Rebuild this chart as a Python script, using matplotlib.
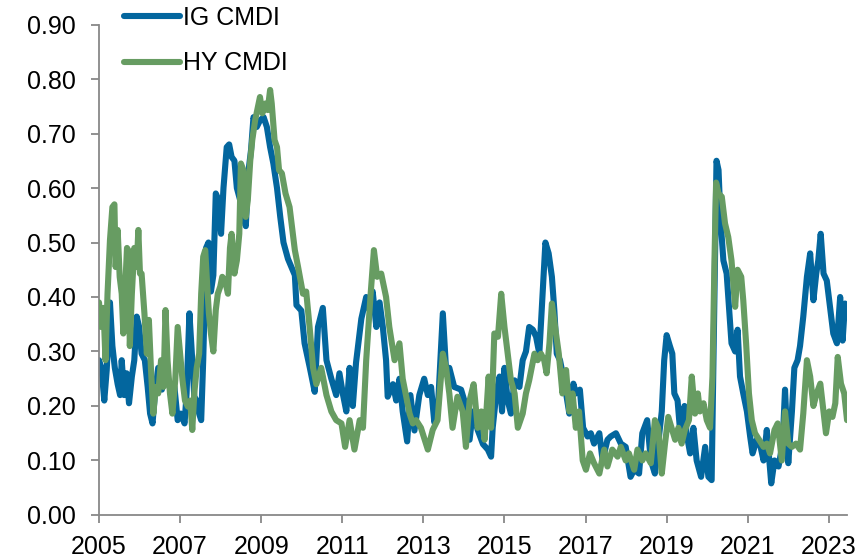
import matplotlib.pyplot as plt
import numpy as np

plt.rcParams['font.family'] = ['Liberation Sans', 'DejaVu Sans']

# IG CMDI readings (decimal year, index value)
ig_years = [
    2005.00, 2005.06, 2005.13, 2005.19, 2005.27, 2005.33, 2005.39, 2005.46, 2005.52, 2005.56,
    2005.62, 2005.68, 2005.74, 2005.81, 2005.87, 2005.93, 2005.99, 2006.05, 2006.13, 2006.20,
    2006.26, 2006.32, 2006.38, 2006.46, 2006.55, 2006.63, 2006.71, 2006.78, 2006.86, 2006.94,
    2007.02, 2007.11, 2007.16, 2007.23, 2007.29, 2007.35, 2007.41, 2007.47, 2007.52, 2007.57,
    2007.64, 2007.70, 2007.76, 2007.82, 2007.88, 2007.95, 2008.01, 2008.07, 2008.15, 2008.21,
    2008.27, 2008.34, 2008.40, 2008.48, 2008.56, 2008.62, 2008.69, 2008.75, 2008.81, 2008.89,
    2008.97, 2009.06, 2009.14, 2009.22, 2009.30, 2009.39, 2009.47, 2009.55, 2009.66, 2009.83,
    2009.87, 2009.99, 2010.07, 2010.20, 2010.32, 2010.40, 2010.52, 2010.61, 2010.73, 2010.85,
    2010.93, 2011.02, 2011.10, 2011.18, 2011.26, 2011.34, 2011.47, 2011.59, 2011.67, 2011.75,
    2011.84, 2011.92, 2012.00, 2012.08, 2012.12, 2012.25, 2012.33, 2012.41, 2012.49, 2012.60,
    2012.68, 2012.78, 2012.90, 2013.02, 2013.11, 2013.19, 2013.27, 2013.35, 2013.48, 2013.56,
    2013.64, 2013.76, 2013.93, 2014.05, 2014.14, 2014.22, 2014.34, 2014.47, 2014.59, 2014.67,
    2014.71, 2014.80, 2014.88, 2014.94, 2015.00, 2015.08, 2015.16, 2015.25, 2015.37, 2015.45,
    2015.53, 2015.61, 2015.70, 2015.78, 2015.86, 2015.94, 2016.01, 2016.09, 2016.17, 2016.23,
    2016.29, 2016.37, 2016.45, 2016.52, 2016.60, 2016.70, 2016.76, 2016.86, 2016.94, 2017.05,
    2017.13, 2017.21, 2017.34, 2017.42, 2017.54, 2017.62, 2017.75, 2017.87, 2017.99, 2018.11,
    2018.20, 2018.32, 2018.40, 2018.52, 2018.61, 2018.71, 2018.79, 2018.88, 2018.94, 2019.00,
    2019.08, 2019.14, 2019.19, 2019.27, 2019.33, 2019.39, 2019.44, 2019.49, 2019.58, 2019.66,
    2019.74, 2019.85, 2019.95, 2020.03, 2020.11, 2020.18, 2020.23, 2020.28, 2020.33, 2020.40,
    2020.48, 2020.55, 2020.60, 2020.69, 2020.75, 2020.81, 2020.89, 2020.98, 2021.06, 2021.12,
    2021.22, 2021.30, 2021.39, 2021.47, 2021.58, 2021.66, 2021.76, 2021.86, 2021.92, 2022.00,
    2022.09, 2022.15, 2022.23, 2022.29, 2022.37, 2022.46, 2022.54, 2022.62, 2022.69, 2022.74,
    2022.80, 2022.87, 2022.95, 2023.03, 2023.11, 2023.20, 2023.28, 2023.34, 2023.40, 2023.45,
]
ig_values = [
    0.284, 0.270, 0.210, 0.266, 0.390, 0.310, 0.270, 0.240, 0.220, 0.284,
    0.220, 0.260, 0.205, 0.254, 0.284, 0.364, 0.345, 0.296, 0.284, 0.235,
    0.186, 0.168, 0.223, 0.270, 0.230, 0.284, 0.247, 0.223, 0.235, 0.174,
    0.186, 0.168, 0.223, 0.370, 0.296, 0.217, 0.210, 0.186, 0.174, 0.284,
    0.490, 0.500, 0.410, 0.440, 0.590, 0.578, 0.516, 0.600, 0.675, 0.680,
    0.657, 0.650, 0.600, 0.578, 0.553, 0.530, 0.633, 0.670, 0.730, 0.712,
    0.724, 0.730, 0.712, 0.675, 0.645, 0.600, 0.547, 0.500, 0.470, 0.440,
    0.385, 0.375, 0.315, 0.270, 0.226, 0.345, 0.380, 0.284, 0.250, 0.220,
    0.260, 0.220, 0.190, 0.270, 0.200, 0.280, 0.360, 0.400, 0.376, 0.410,
    0.345, 0.390, 0.345, 0.284, 0.217, 0.240, 0.210, 0.250, 0.190, 0.135,
    0.220, 0.155, 0.220, 0.250, 0.220, 0.235, 0.170, 0.185, 0.370, 0.266,
    0.270, 0.235, 0.230, 0.200, 0.138, 0.190, 0.156, 0.130, 0.120, 0.107,
    0.160, 0.223, 0.254, 0.190, 0.270, 0.210, 0.186, 0.247, 0.235, 0.284,
    0.300, 0.345, 0.340, 0.327, 0.296, 0.406, 0.500, 0.480, 0.437, 0.376,
    0.296, 0.284, 0.254, 0.223, 0.186, 0.241, 0.223, 0.230, 0.160, 0.144,
    0.150, 0.131, 0.150, 0.100, 0.138, 0.144, 0.150, 0.131, 0.125, 0.070,
    0.083, 0.076, 0.150, 0.174, 0.100, 0.076, 0.130, 0.190, 0.284, 0.330,
    0.310, 0.296, 0.223, 0.210, 0.156, 0.150, 0.200, 0.150, 0.113, 0.160,
    0.100, 0.070, 0.125, 0.070, 0.064, 0.406, 0.650, 0.633, 0.540, 0.467,
    0.443, 0.370, 0.315, 0.300, 0.340, 0.254, 0.223, 0.190, 0.144, 0.113,
    0.138, 0.131, 0.100, 0.156, 0.058, 0.100, 0.089, 0.131, 0.230, 0.095,
    0.190, 0.270, 0.284, 0.310, 0.364, 0.437, 0.480, 0.394, 0.443, 0.467,
    0.516, 0.443, 0.430, 0.382, 0.333, 0.315, 0.400, 0.320, 0.388, 0.370,
]

# HY CMDI readings (decimal year, index value)
hy_years = [
    2005.00, 2005.05, 2005.11, 2005.16, 2005.21, 2005.27, 2005.33, 2005.38, 2005.41, 2005.46,
    2005.51, 2005.56, 2005.60, 2005.64, 2005.69, 2005.72, 2005.76, 2005.81, 2005.87, 2005.93,
    2005.97, 2006.01, 2006.05, 2006.12, 2006.18, 2006.23, 2006.28, 2006.34, 2006.40, 2006.46,
    2006.53, 2006.59, 2006.64, 2006.69, 2006.75, 2006.81, 2006.88, 2006.94, 2007.00, 2007.06,
    2007.12, 2007.19, 2007.25, 2007.30, 2007.35, 2007.41, 2007.47, 2007.52, 2007.57, 2007.62,
    2007.67, 2007.71, 2007.76, 2007.82, 2007.88, 2007.93, 2007.99, 2008.04, 2008.11, 2008.18,
    2008.23, 2008.27, 2008.34, 2008.40, 2008.46, 2008.50, 2008.56, 2008.62, 2008.67, 2008.73,
    2008.78, 2008.85, 2008.92, 2008.97, 2009.03, 2009.10, 2009.16, 2009.22, 2009.26, 2009.33,
    2009.39, 2009.44, 2009.51, 2009.60, 2009.70, 2009.83, 2009.91, 2010.03, 2010.11, 2010.20,
    2010.28, 2010.36, 2010.48, 2010.61, 2010.73, 2010.85, 2010.98, 2011.07, 2011.18, 2011.30,
    2011.43, 2011.51, 2011.59, 2011.70, 2011.78, 2011.86, 2011.96, 2012.08, 2012.16, 2012.29,
    2012.41, 2012.49, 2012.57, 2012.66, 2012.74, 2012.82, 2012.94, 2013.11, 2013.23, 2013.35,
    2013.48, 2013.56, 2013.64, 2013.72, 2013.84, 2013.97, 2014.05, 2014.14, 2014.24, 2014.34,
    2014.43, 2014.51, 2014.61, 2014.67, 2014.75, 2014.84, 2014.92, 2015.00, 2015.08, 2015.16,
    2015.25, 2015.33, 2015.45, 2015.53, 2015.61, 2015.74, 2015.82, 2015.90, 2015.98, 2016.04,
    2016.11, 2016.17, 2016.25, 2016.34, 2016.43, 2016.52, 2016.60, 2016.68, 2016.76, 2016.84,
    2016.93, 2017.01, 2017.11, 2017.21, 2017.34, 2017.46, 2017.54, 2017.66, 2017.79, 2017.87,
    2017.99, 2018.07, 2018.20, 2018.28, 2018.40, 2018.48, 2018.61, 2018.71, 2018.79, 2018.88,
    2018.96, 2019.04, 2019.12, 2019.21, 2019.29, 2019.37, 2019.45, 2019.55, 2019.62, 2019.70,
    2019.77, 2019.82, 2019.91, 2019.99, 2020.07, 2020.13, 2020.18, 2020.22, 2020.28, 2020.36,
    2020.44, 2020.52, 2020.60, 2020.69, 2020.75, 2020.84, 2020.89, 2020.96, 2021.03, 2021.10,
    2021.18, 2021.28, 2021.39, 2021.47, 2021.55, 2021.66, 2021.74, 2021.84, 2021.92, 2022.00,
    2022.09, 2022.19, 2022.29, 2022.37, 2022.46, 2022.54, 2022.62, 2022.70, 2022.79, 2022.87,
    2022.93, 2023.01, 2023.09, 2023.16, 2023.22, 2023.30, 2023.38, 2023.45,
]
hy_values = [
    0.390, 0.345, 0.380, 0.284, 0.406, 0.504, 0.565, 0.570, 0.455, 0.523,
    0.437, 0.406, 0.333, 0.406, 0.490, 0.486, 0.310, 0.406, 0.490, 0.455,
    0.523, 0.443, 0.443, 0.370, 0.296, 0.358, 0.270, 0.186, 0.235, 0.223,
    0.284, 0.235, 0.376, 0.284, 0.223, 0.186, 0.247, 0.345, 0.296, 0.247,
    0.210, 0.199, 0.210, 0.156, 0.223, 0.270, 0.296, 0.406, 0.474, 0.486,
    0.419, 0.370, 0.333, 0.300, 0.376, 0.406, 0.419, 0.437, 0.430, 0.406,
    0.490, 0.516, 0.443, 0.467, 0.516, 0.645, 0.633, 0.547, 0.578, 0.650,
    0.688, 0.724, 0.749, 0.767, 0.737, 0.755, 0.743, 0.780, 0.755, 0.688,
    0.675, 0.633, 0.627, 0.590, 0.565, 0.486, 0.455, 0.406, 0.410, 0.340,
    0.270, 0.240, 0.270, 0.220, 0.190, 0.174, 0.168, 0.125, 0.174, 0.120,
    0.174, 0.160, 0.284, 0.406, 0.486, 0.437, 0.443, 0.400, 0.345, 0.284,
    0.315, 0.250, 0.220, 0.186, 0.168, 0.174, 0.160, 0.120, 0.156, 0.174,
    0.296, 0.270, 0.223, 0.160, 0.217, 0.190, 0.125, 0.210, 0.240, 0.160,
    0.190, 0.138, 0.254, 0.160, 0.333, 0.327, 0.406, 0.345, 0.296, 0.247,
    0.223, 0.160, 0.186, 0.223, 0.247, 0.296, 0.284, 0.296, 0.284, 0.260,
    0.315, 0.388, 0.345, 0.296, 0.223, 0.266, 0.190, 0.223, 0.160, 0.190,
    0.100, 0.083, 0.113, 0.095, 0.076, 0.120, 0.089, 0.120, 0.107, 0.125,
    0.100, 0.113, 0.083, 0.120, 0.100, 0.113, 0.095, 0.174, 0.160, 0.076,
    0.131, 0.180, 0.160, 0.138, 0.160, 0.131, 0.156, 0.174, 0.254, 0.186,
    0.223, 0.190, 0.205, 0.174, 0.160, 0.254, 0.467, 0.610, 0.590, 0.584,
    0.535, 0.510, 0.467, 0.382, 0.450, 0.437, 0.394, 0.315, 0.223, 0.174,
    0.150, 0.138, 0.125, 0.131, 0.113, 0.156, 0.168, 0.100, 0.190, 0.131,
    0.125, 0.131, 0.120, 0.186, 0.284, 0.254, 0.200, 0.223, 0.241, 0.190,
    0.150, 0.190, 0.180, 0.205, 0.290, 0.241, 0.223, 0.174,
]

year_ticks = np.arange(2005, 2024, 2)
value_ticks = np.arange(0, 0.91, 0.1)

ig_color = '#03669e'
hy_color = '#679c62'
axis_gray = '#888888'

fig = plt.figure(figsize=(8.67, 5.6), dpi=100)
ax = fig.add_axes([0.1142, 0.0804, 0.8628, 0.8758])

line_kw = dict(linewidth=4.4, solid_joinstyle='round', solid_capstyle='round')
ax.plot(ig_years, ig_values, color=ig_color, label='IG CMDI', zorder=2, **line_kw)
ax.plot(hy_years, hy_values, color=hy_color, label='HY CMDI', zorder=3, **line_kw)

ax.set_xlim(2005, 2023.45)
ax.set_ylim(0, 0.9)
ax.set_xticks(year_ticks)
ax.set_xticklabels([str(y) for y in year_ticks])
ax.set_yticks(value_ticks)
ax.set_yticklabels([f'{v:.2f}' for v in value_ticks])

for side in ['top', 'right']:
    ax.spines[side].set_visible(False)
for side in ['left', 'bottom']:
    ax.spines[side].set_color(axis_gray)
    ax.spines[side].set_linewidth(1.3)

ax.tick_params(axis='both', direction='out', length=6, width=1.3, color=axis_gray,
               labelsize=18, labelcolor='#000000')
ax.tick_params(axis='y', pad=11)
ax.tick_params(axis='x', pad=8.5)

leg = fig.legend(loc='upper left', bbox_to_anchor=(124 / 867, 1 - 6 / 560),
                 frameon=False, fontsize=18, handlelength=2.25, handletextpad=0.12,
                 labelspacing=0.86, borderpad=0, borderaxespad=0)

fig.savefig('out.png', dpi=100)
